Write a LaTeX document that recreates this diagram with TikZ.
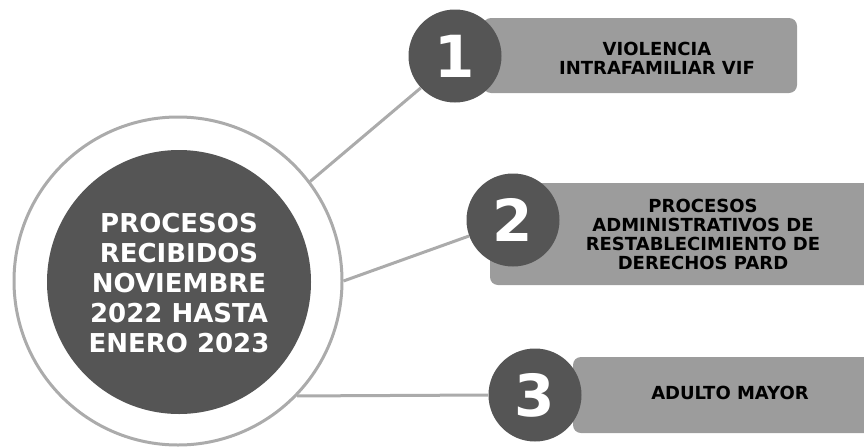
\documentclass[tikz,border=0pt]{standalone}
\usepackage{fontspec}
\setmainfont{DejaVu Sans}
\definecolor{darkg}{HTML}{555555}
\definecolor{boxg}{HTML}{9C9C9C}
\definecolor{ringg}{HTML}{ABABAB}

\begin{document}
\begin{tikzpicture}[x=1pt,y=-1pt,
    numdot/.style={circle,fill=darkg,minimum size=93pt,inner sep=0pt,text=white,
      font=\bfseries\fontsize{58}{58}\selectfont},
    lbl/.style={align=center,text=black,font=\bfseries\fontsize{18}{19}\selectfont},
    link/.style={draw=ringg,line width=3pt}]
  \useasboundingbox (0,0) rectangle (864,447);
  % label bars
  \fill[boxg,rounded corners=8pt] (483,18) rectangle (797,93);
  \fill[boxg,rounded corners=8pt] (490,183) rectangle (890,285);
  \fill[boxg,rounded corners=8pt] (573,357) rectangle (890,433);
  % central circle
  \node[circle,draw=ringg,line width=3pt,minimum size=328pt,inner sep=0pt] (ring) at (178,281) {};
  \node[circle,fill=darkg,minimum size=264pt,inner sep=0pt] (core) at (179,282) {};
  \node[align=center,text=white,font=\bfseries\fontsize{26}{30}\selectfont] (title) at (179,283)
    {PROCESOS\\RECIBIDOS\\NOVIEMBRE\\2022 HASTA\\ENERO 2023};
  % numbered dots
  \foreach \i/\x/\y in {1/455/56, 2/513/220, 3/535/395}
    \node[numdot] (num\i) at (\x,\y) {\i};
  \node[lbl] (lab1) at (657,58) {VIOLENCIA\\INTRAFAMILIAR VIF};
  \node[lbl] (lab2) at (703,234) {PROCESOS\\ADMINISTRATIVOS DE\\RESTABLECIMIENTO DE\\DERECHOS PARD};
  \node[lbl] (lab3) at (730,393) {ADULTO MAYOR};
  % links
  \draw[link] (ring.37) -- (num1.223);
  \draw[link] (ring.0) -- (num2.200);
  \draw[link] (ring.-44) -- (num3.west);
\end{tikzpicture}
\end{document}
